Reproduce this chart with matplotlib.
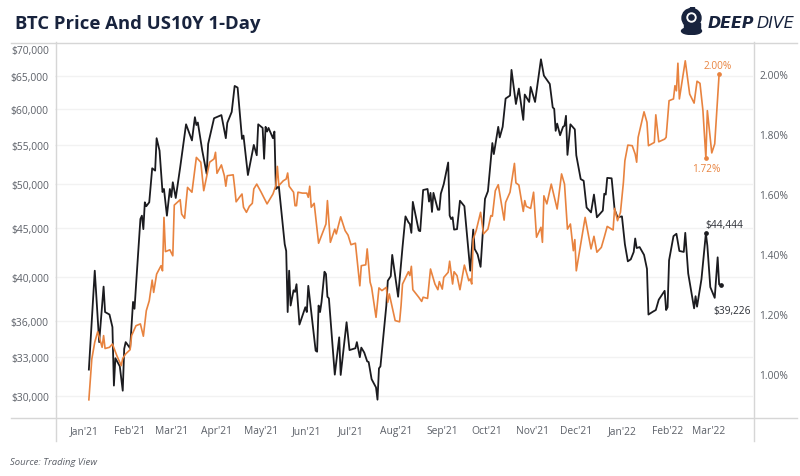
# -*- coding: utf-8 -*-

import matplotlib
matplotlib.use("Agg")
import matplotlib.pyplot as plt
import numpy as np
from matplotlib.lines import Line2D
from matplotlib.patches import Ellipse, Circle, Rectangle
from matplotlib.ticker import NullLocator

plt.rcParams['font.family'] = ['Open Sans', 'DejaVu Sans']

start_date = np.datetime64('2021-01-04')

# days after start_date
btc_days = [
    0, 4, 7, 10, 11, 14, 16, 17, 18, 21,
    23, 24, 25, 28, 30, 31, 32, 35, 36, 37,
    38, 39, 41, 43, 45, 46, 48, 50, 51, 53,
    55, 56, 57, 59, 62, 66, 70, 72, 73, 74,
    77, 80, 81, 85, 90, 93, 94, 97, 99, 101,
    104, 105, 108, 112, 114, 115, 118, 119, 120, 121,
    122, 125, 126, 127, 129, 133, 134, 135, 136, 137,
    139, 140, 141, 143, 147, 148, 149, 154, 155, 156,
    157, 158, 160, 161, 162, 163, 167, 170, 171, 175,
    177, 181, 182, 184, 185, 187, 189, 190, 192, 195,
    196, 197, 198, 202, 203, 205, 206, 210, 213, 215,
    217, 218, 219, 220, 224, 225, 227, 230, 231, 232,
    233, 234, 237, 238, 239, 241, 244, 245, 246, 247,
    248, 250, 252, 255, 259, 261, 262, 264, 266, 269,
    271, 274, 275, 278, 279, 281, 283, 286, 287, 290,
    292, 295, 296, 299, 300, 303, 307, 309, 313, 315,
    316, 317, 318, 320, 322, 323, 324, 325, 327, 330,
    331, 334, 336, 338, 341, 343, 345, 349, 350, 351,
    352, 355, 357, 359, 362, 364, 366, 368, 370, 371,
    372, 374, 377, 379, 380, 383, 385, 387, 391, 392,
    393, 394, 397, 399, 401, 404, 405, 407, 411, 412,
    413, 416, 419, 420, 422, 425, 427, 428, 429,
]
btc_price = [
    32010, 40620, 34200, 39090, 36770, 36550, 35460, 30800, 32900, 32265,
    30420, 33650, 34200, 33700, 37680, 37060, 39170, 46010, 46380, 44900,
    47900, 47450, 47900, 51990, 51700, 55900, 54240, 49100, 49460, 46380,
    49460, 48500, 50270, 48400, 52100, 57800, 55600, 58800, 57700, 58050,
    54250, 51300, 55130, 58650, 59100, 55900, 58000, 59550, 63400, 63150,
    55800, 56250, 51150, 55000, 53650, 57800, 57300, 53200, 57450, 56800,
    57300, 55900, 56800, 49460, 49790, 43300, 42600, 36770, 40620, 37350,
    38750, 38600, 39320, 35680, 37200, 36770, 39170, 33500, 33420, 37350,
    36770, 37680, 40520, 40300, 38150, 38000, 31620, 34600, 31600, 35880,
    33550, 33700, 34200, 32980, 33750, 33350, 32650, 32600, 31280, 30660,
    29770, 32100, 32260, 37350, 39650, 40090, 42200, 38150, 43000, 46300,
    45650, 45450, 44500, 47950, 44750, 44680, 49340, 49460, 47980, 49000,
    46800, 49000, 47050, 47050, 48900, 50050, 52720, 46400, 46000, 46200,
    44850, 44900, 48080, 47450, 40620, 44850, 42800, 42250, 41000, 48300,
    49200, 55250, 53800, 57450, 56000, 57450, 61500, 61950, 65900, 60700,
    63000, 58420, 62100, 61000, 63250, 61000, 67600, 65000, 63700, 60200,
    60000, 56900, 57900, 56300, 57450, 57600, 59000, 53700, 57800, 57100,
    53650, 50650, 50450, 47300, 46750, 48800, 46200, 46950, 48900, 48800,
    50800, 50750, 47100, 46200, 46300, 43300, 41550, 41750, 42500, 43900,
    42900, 43000, 42200, 40800, 36550, 36800, 36950, 37880, 38700, 36950,
    37200, 41650, 44150, 44400, 42600, 42500, 44500, 40350, 37100, 38200,
    37250, 39800, 44444, 43150, 39050, 38050, 41950, 39300, 39226,
]

us10y_days = [
    0, 2, 4, 6, 8, 9, 10, 11, 14, 16,
    19, 22, 23, 25, 28, 29, 32, 35, 37, 39,
    41, 43, 44, 46, 49, 50, 51, 52, 55, 57,
    58, 62, 63, 65, 67, 70, 73, 76, 78, 82,
    85, 86, 87, 90, 92, 93, 94, 98, 99, 100,
    103, 104, 105, 107, 109, 111, 112, 114, 117, 121,
    125, 127, 128, 129, 132, 134, 135, 136, 139, 140,
    141, 142, 145, 148, 149, 150, 151, 153, 156, 161,
    162, 164, 167, 168, 171, 174, 176, 178, 181, 184,
    185, 188, 189, 191, 192, 195, 197, 199, 202, 203,
    204, 208, 211, 212, 213, 217, 218, 219, 220, 224,
    226, 227, 230, 232, 235, 237, 238, 240, 241, 244,
    245, 247, 248, 250, 252, 255, 258, 259, 260, 261,
    263, 266, 268, 271, 273, 274, 276, 278, 282, 283,
    286, 289, 290, 292, 295, 296, 297, 300, 302, 304,
    307, 308, 309, 311, 314, 318, 321, 323, 325, 327,
    329, 330, 331, 337, 341, 343, 345, 348, 350, 352,
    356, 357, 359, 361, 363, 364, 366, 369, 371, 372,
    373, 377, 379, 380, 384, 385, 387, 391, 392, 394,
    397, 398, 399, 400, 401, 405, 408, 411, 413, 415,
    417, 419, 420, 423, 425, 428,
]
us10y_yield = [
    .914, 1.05, 1.106, 1.141, 1.106, 1.089, 1.128, 1.085, 1.089, 1.100,
    1.061, 1.028, 1.052, 1.067, 1.081, 1.128, 1.161, 1.167, 1.126, 1.211,
    1.244, 1.313, 1.272, 1.333, 1.361, 1.344, 1.522, 1.408, 1.414, 1.394,
    1.563, 1.581, 1.533, 1.519, 1.622, 1.606, 1.722, 1.706, 1.611, 1.706,
    1.717, 1.739, 1.669, 1.697, 1.661, 1.626, 1.661, 1.664, 1.622, 1.574,
    1.594, 1.600, 1.556, 1.539, 1.559, 1.569, 1.617, 1.633, 1.606, 1.567,
    1.600, 1.628, 1.692, 1.628, 1.644, 1.650, 1.670, 1.626, 1.606, 1.561,
    1.561, 1.606, 1.603, 1.603, 1.589, 1.626, 1.556, 1.569, 1.436, 1.500,
    1.578, 1.439, 1.483, 1.467, 1.524, 1.478, 1.463, 1.431, 1.436, 1.294,
    1.361, 1.364, 1.417, 1.306, 1.289, 1.189, 1.287, 1.278, 1.289, 1.239,
    1.267, 1.178, 1.174, 1.228, 1.300, 1.341, 1.328, 1.359, 1.281, 1.256,
    1.242, 1.256, 1.252, 1.350, 1.300, 1.281, 1.308, 1.283, 1.322, 1.339,
    1.376, 1.300, 1.341, 1.328, 1.281, 1.363, 1.311, 1.317, 1.300, 1.450,
    1.478, 1.539, 1.467, 1.483, 1.528, 1.526, 1.611, 1.631, 1.513, 1.572,
    1.606, 1.702, 1.637, 1.630, 1.542, 1.578, 1.559, 1.552, 1.606, 1.456,
    1.489, 1.439, 1.594, 1.567, 1.633, 1.550, 1.667, 1.633, 1.483, 1.500,
    1.411, 1.448, 1.344, 1.522, 1.417, 1.459, 1.406, 1.422, 1.456, 1.492,
    1.480, 1.552, 1.511, 1.539, 1.639, 1.711, 1.763, 1.761, 1.733, 1.706,
    1.789, 1.874, 1.839, 1.761, 1.772, 1.864, 1.774, 1.783, 1.789, 1.911,
    1.917, 1.961, 1.944, 2.036, 1.917, 2.044, 1.933, 1.903, 1.976, 1.969,
    1.878, 1.72, 1.878, 1.737, 1.767, 2.00,
]

month_starts = ['2021-01-01', '2021-02-01', '2021-03-01', '2021-04-01', '2021-05-01',
                '2021-06-01', '2021-07-01', '2021-08-01', '2021-09-01', '2021-10-01',
                '2021-11-01', '2021-12-01', '2022-01-01', '2022-02-01', '2022-03-01']
month_labels = ["Jan'21", "Feb'21", "Mar'21", "Apr'21", "May'21", "Jun'21", "Jul'21", "Aug'21",
                "Sep'21", "Oct'21", "Nov'21", "Dec'21", "Jan'22", "Feb'22", "Mar'22"]
price_ticks = [30000, 33000, 36000, 40000, 45000, 50000, 55000, 60000, 65000, 70000]
yield_ticks = [1.0, 1.2, 1.4, 1.6, 1.8, 2.0]

W, H = 800, 477
NAVY = '#18233d'
GREY = '#5c6068'
BLACK = '#1b1b1f'
ORANGE = '#e8833f'
RULE = '#d6d6d6'

btc_dates = start_date + np.array(btc_days).astype('timedelta64[D]')
us10y_dates = start_date + np.array(us10y_days).astype('timedelta64[D]')

fig = plt.figure(figsize=(8, 4.77), dpi=100)
ax = fig.add_axes([55 / W, 1 - 418 / H, (753 - 55) / W, (418 - 43) / H])
ax2 = ax.twinx()

ax.plot(btc_dates, btc_price, color=BLACK, lw=1.3, solid_joinstyle='round')
ax2.plot(us10y_dates, us10y_yield, color=ORANGE, lw=1.2, solid_joinstyle='round')

# end points with labels
i_high = btc_days.index(419)
ax.plot(btc_dates[[i_high, -1]], [btc_price[i_high], btc_price[-1]], 'o', color=BLACK, ms=2.4)
j_low = us10y_days.index(419)
ax2.plot(us10y_dates[[j_low, -1]], [us10y_yield[j_low], us10y_yield[-1]], 'o', color=ORANGE, ms=2.4)

ax.annotate('$44,444', (btc_dates[i_high], btc_price[i_high]), xytext=(18, 9),
            textcoords='offset pixels', ha='center', va='center', fontsize=7.3, color='#2b2e35')
ax.annotate('$39,226', (btc_dates[-1], btc_price[-1]), xytext=(12, -25),
            textcoords='offset pixels', ha='center', va='center', fontsize=7.3, color='#2b2e35')
ax2.annotate('2.00%', (us10y_dates[-1], us10y_yield[-1]), xytext=(-1, 9),
             textcoords='offset pixels', ha='center', va='center', fontsize=7.3, color=ORANGE)
ax2.annotate('1.72%', (us10y_dates[j_low], us10y_yield[j_low]), xytext=(0, -10),
             textcoords='offset pixels', ha='center', va='center', fontsize=7.3, color=ORANGE)

ax.set_yscale('log')
ax.set_ylim(28554, 70480)
ax.set_yticks(price_ticks)
ax.set_yticklabels(['$%s' % format(p, ',') for p in price_ticks])
ax.yaxis.set_minor_locator(NullLocator())
ax.grid(axis='y', color='#f2f2f2', lw=1)
ax.get_ygridlines()[-1].set_visible(False)
ax.set_axisbelow(True)
ax.get_yticklabels()[-1].set_va('top')

ax2.set_ylim(0.8567, 2.1067)
ax2.set_yticks(yield_ticks)
ax2.set_yticklabels(['%.2f%%' % v for v in yield_ticks])

ax.set_xlim(np.datetime64('2020-12-12'), np.datetime64('2022-03-31'))
ax.set_xticks(np.array(month_starts, dtype='datetime64[D]'))
ax.set_xticklabels(month_labels)

ax.tick_params(axis='y', length=0, pad=4.5, labelsize=7.4, labelcolor=GREY)
ax2.tick_params(axis='y', length=0, pad=4.5, labelsize=7.4, labelcolor=GREY)
ax.tick_params(axis='x', length=0, pad=6, labelsize=7.4, labelcolor=GREY)

for a in (ax, ax2):
    for s in a.spines.values():
        s.set_visible(False)


def rule(x0, y0, x1, y1):
    fig.add_artist(Line2D([x0 / W, x1 / W], [1 - y0 / H, 1 - y1 / H], color=RULE, lw=1))


rule(11, 43.5, 797, 43.5)
rule(11, 418.5, 797, 418.5)
rule(55.5, 43, 55.5, 442)
rule(753.5, 43, 753.5, 442)

fig.text(15 / W, 1 - 24 / H, 'BTC Price And US10Y 1-Day', fontsize=13.3, fontweight='bold',
         color=NAVY, va='center', ha='left')
fig.text(10 / W, 1 - 463 / H, 'Source: Trading View', fontsize=6.8, style='italic',
         color=GREY, va='center', ha='left')

# logo
logo = fig.add_axes([680 / W, 1 - 36 / H, 23 / W, 28 / H])
logo.set_xlim(0, 23)
logo.set_ylim(28, 0)
logo.axis('off')
logo.add_patch(Ellipse((11.5, 11), 19, 19, color=NAVY))
logo.add_patch(Rectangle((3.5, 16), 16, 8, color=NAVY))
logo.add_patch(Ellipse((11.5, 24), 20, 7, color=NAVY))
logo.add_patch(Rectangle((9.5, 0), 4, 3, color=NAVY))
logo.add_patch(Circle((11.5, 10.5), 4.5, color='white'))
logo.add_patch(Circle((11.5, 10.5), 2.6, color=NAVY))

fig.text(708 / W, 1 - 23 / H, 'DEEP', fontsize=11.4, fontweight='bold', style='italic',
         family='DejaVu Sans', color=NAVY, va='center', ha='left')
fig.text(757 / W, 1 - 23 / H, 'DIVE', fontsize=11.4, style='italic',
         family='DejaVu Sans', color=NAVY, va='center', ha='left')

plt.savefig('out.png', dpi=100)
